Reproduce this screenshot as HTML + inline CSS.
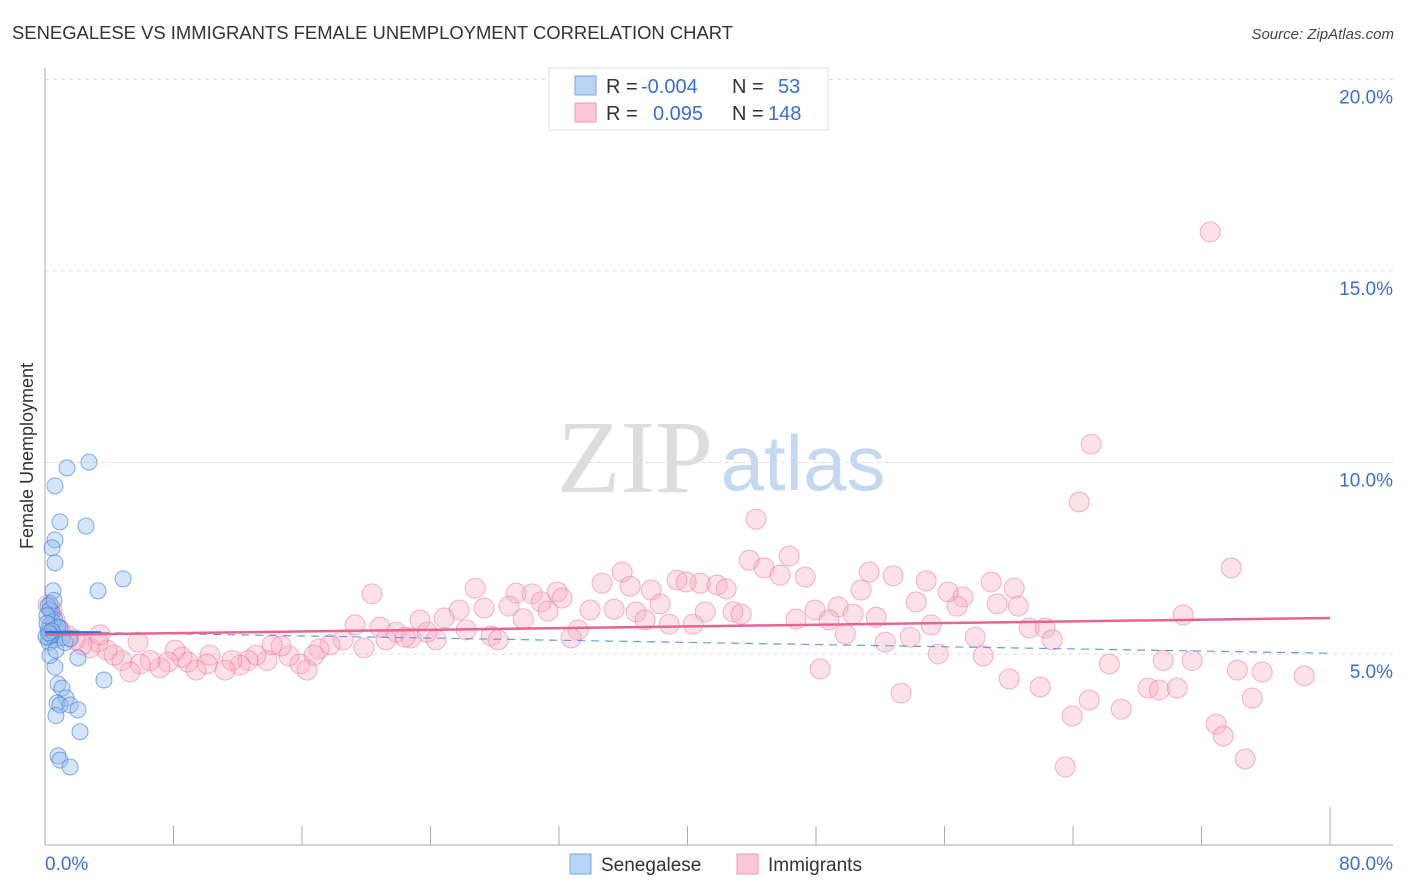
<!DOCTYPE html>
<html><head><meta charset="utf-8"><style>
body{margin:0;background:#fff;font-family:"Liberation Sans",sans-serif}
svg{display:block}
</style></head><body>
<svg id="chart" width="1406" height="892">
<text x="12" y="39" font-size="18" fill="#333" textLength="721" lengthAdjust="spacingAndGlyphs">SENEGALESE VS IMMIGRANTS FEMALE UNEMPLOYMENT CORRELATION CHART</text>
<text x="1394" y="39" font-size="15" fill="#444" font-style="italic" text-anchor="end">Source: ZipAtlas.com</text>
<text x="0" y="0" font-size="18" fill="#333" text-anchor="middle" transform="translate(33,456) rotate(-90)">Female Unemployment</text>
<g><text x="635" y="492" font-size="104" fill="#ddd" font-family="Liberation Serif,serif" text-anchor="middle">ZIP</text><text x="803" y="490" font-size="78" fill="#c6d8f0" text-anchor="middle">atlas</text></g>
<g id="grid"></g><g id="axes"></g><g id="pts"></g><g id="trends"></g>
<g>
<rect x="549" y="68" width="279" height="62" fill="#fff" stroke="#ddd"/>
<rect x="575" y="76" width="21" height="19" fill="#b9d3f5" stroke="#7aa7e6"/>
<rect x="575" y="103" width="21" height="19" fill="#fcc8d6" stroke="#f09ab3"/>
<text x="606" y="93" font-size="20" fill="#333">R = <tspan x="641" fill="#3a6fd0">-0.004</tspan></text>
<text x="732" y="93" font-size="20" fill="#333">N = <tspan x="778" fill="#3a6fd0">53</tspan></text>
<text x="606" y="120" font-size="20" fill="#333">R = <tspan x="653" fill="#3a6fd0">0.095</tspan></text>
<text x="732" y="120" font-size="20" fill="#333">N = <tspan x="768" fill="#3a6fd0">148</tspan></text>
</g>
<g>
<rect x="570" y="854" width="21" height="20" fill="#b9d3f5" stroke="#7aa7e6"/>
<text x="601" y="871" font-size="19" fill="#333">Senegalese</text>
<rect x="737" y="854" width="21" height="20" fill="#fcc8d6" stroke="#f09ab3"/>
<text x="768" y="871" font-size="19" fill="#333">Immigrants</text>
</g>
</svg>
<script>
const yTicks=[5,10,15,20];
const yTickLabels=["5.0%","10.0%","15.0%","20.0%"];
const xTickVals=[0,8,16,24,32,40,48,56,64,72,80];
const xEndLabels=["0.0%","80.0%"];
const senX=[2.74,1.37,0.62,0.93,2.55,0.62,0.44,0.62,4.86,3.30,0.50,0.31,0.44,0.62,0.19,0.31,0.75,0.93,0.44,0.62,0.19,1.06,2.05,0.62,3.67,0.81,1.06,1.31,0.75,0.93,1.56,2.05,0.68,2.18,0.81,0.93,1.56,0.31,0.19,0.50,0.12,0.37,0.25,0.56,0.81,0.06,0.31,0.68,1.25,1.56,0.12,0.44,0.25];
const senY=[10.01,9.86,9.39,8.45,8.34,7.98,7.77,7.38,6.96,6.65,6.65,6.31,6.10,5.89,6.25,5.76,5.63,5.68,5.47,5.37,5.42,5.42,4.90,4.66,4.32,4.22,4.11,3.85,3.72,3.67,3.67,3.54,3.39,2.97,2.34,2.23,2.05,6.15,5.63,5.84,6.00,5.50,5.30,6.40,5.70,5.45,4.96,5.10,5.30,5.40,5.80,5.60,5.55];
const immX=[72.54,65.13,64.39,44.27,73.85,43.84,46.33,44.77,45.77,47.33,51.31,52.80,54.86,58.91,60.34,56.23,57.16,50.81,35.93,34.68,36.43,39.35,40.79,39.92,41.85,42.41,37.74,26.78,29.33,31.88,30.33,30.89,32.19,20.36,25.78,27.34,28.89,24.85,23.35,19.30,20.86,21.86,22.79,24.35,29.77,31.32,33.94,35.43,36.80,38.30,37.36,38.86,40.35,41.10,42.84,43.34,46.76,47.95,49.38,48.82,50.31,51.75,54.24,55.17,56.79,59.28,60.59,61.27,62.27,62.71,70.86,57.91,53.86,52.31,49.82,55.61,58.41,60.03,61.96,66.26,63.95,65.01,67.00,68.68,69.37,70.49,69.62,71.42,74.23,75.78,78.40,75.16,72.92,73.35,74.72,63.52,48.26,53.30,33.19,32.75,27.77,28.21,26.22,23.79,22.42,21.23,18.56,17.75,17.06,19.86,16.75,15.88,16.31,15.19,14.70,14.14,13.82,13.14,12.64,12.14,11.64,11.21,10.27,10.09,9.40,8.90,8.53,8.10,7.66,7.16,6.54,5.92,5.79,5.29,4.79,4.30,3.86,3.30,2.80,2.30,1.87,1.43,0.93,0.62,0.44,0.19,3.42];
const immY=[16.02,10.48,8.97,8.52,7.25,7.45,7.56,7.25,7.06,7.01,7.14,7.04,6.91,6.88,6.72,6.62,6.49,6.67,7.14,6.85,6.77,6.93,6.85,6.88,6.80,6.70,6.67,6.72,6.59,6.62,6.57,6.36,6.46,6.57,6.15,6.20,6.25,5.94,5.89,5.76,5.70,5.57,5.42,5.37,5.92,6.12,6.15,6.17,6.10,6.31,5.89,5.78,5.78,6.10,6.10,6.04,5.91,6.15,6.23,5.89,6.04,5.96,6.36,5.76,6.25,6.31,6.25,5.68,5.68,5.37,6.02,5.44,5.44,5.31,5.52,5.00,4.95,4.35,4.14,4.74,3.38,3.80,3.56,4.11,4.06,4.11,4.83,4.83,4.58,4.53,4.43,3.85,3.17,2.86,2.26,2.05,4.61,3.98,5.63,5.42,5.47,5.37,5.63,5.57,5.44,5.37,5.37,5.24,5.13,5.16,4.97,4.74,4.58,4.95,5.21,5.24,4.83,4.97,4.83,4.71,4.83,4.58,4.97,4.74,4.58,4.79,4.92,5.10,4.79,4.64,4.83,4.74,5.31,4.53,4.83,4.97,5.10,5.31,5.16,5.24,5.37,5.47,5.63,5.89,6.15,6.28,5.50];
const senTrendX=[0,3.5,80];
const senTrendY=[5.57,5.56,5.02];
const immTrendX=[0,80];
const immTrendY=[5.50,5.94];

const NS="http://www.w3.org/2000/svg";
const X0=45,X1=1330,Y0=845.5,PXY=38.3;
const sx=v=>X0+(v/80)*(X1-X0);
const sy=v=>Y0-v*PXY;
function mk(tag,attrs,parent){const e=document.createElementNS(NS,tag);for(const k in attrs)e.setAttribute(k,attrs[k]);parent.appendChild(e);return e;}
const grid=document.getElementById('grid'),axes=document.getElementById('axes'),pts=document.getElementById('pts'),tr=document.getElementById('trends');
yTicks.forEach((t,i)=>{
  const l=mk('line',{x1:45,x2:1393,y1:sy(t),y2:sy(t),stroke:'#ddd','stroke-dasharray':'4,4'},grid);
  
  
  const tx=mk('text',{x:1393,y:sy(t)+24,'font-size':19,fill:'#3a6fd0','text-anchor':'end'},grid);
  tx.textContent=yTickLabels[i];
  
  
});
const ya=mk('line',{x1:45,x2:45,y1:68,y2:845,stroke:'#aaa'},axes);


const xa=mk('line',{x1:45,x2:1393,y1:845,y2:845,stroke:'#aaa'},axes);


xTickVals.forEach((t,i)=>{
  const long=(i===0||i===xTickVals.length-1);
  const l=mk('line',{x1:sx(t),x2:sx(t),y1:long?807:826,y2:845,stroke:'#aaa'},axes);
  
  
});
const xl0=mk('text',{x:45,y:870,'font-size':19,fill:'#3a6fd0'},axes);xl0.textContent=xEndLabels[0];


const xl1=mk('text',{x:1393,y:870,'font-size':19,fill:'#3a6fd0','text-anchor':'end'},axes);xl1.textContent=xEndLabels[1];


immX.forEach((v,i)=>{
  const c=mk('circle',{cx:sx(v),cy:sy(immY[i]),r:10,fill:'rgba(248,170,192,0.35)',stroke:'rgba(232,120,155,0.55)','stroke-width':1},pts);
  
  
});
senX.forEach((v,i)=>{
  const c=mk('circle',{cx:sx(v),cy:sy(senY[i]),r:8,fill:'rgba(150,190,240,0.4)',stroke:'rgba(60,120,210,0.6)','stroke-width':1},pts);
  
  
});
const bs=mk('line',{x1:sx(senTrendX[0]),y1:sy(senTrendY[0]),x2:sx(senTrendX[1]),y2:sy(senTrendY[1]),stroke:'#2e6fd6','stroke-width':2.5},tr);


const bd=mk('line',{x1:sx(senTrendX[1]),y1:sy(senTrendY[1]),x2:sx(senTrendX[2]),y2:sy(senTrendY[2]),stroke:'#6a9ad8','stroke-width':1.2,'stroke-dasharray':'8,6'},tr);


const pl=mk('line',{x1:sx(immTrendX[0]),y1:sy(immTrendY[0]),x2:sx(immTrendX[1]),y2:sy(immTrendY[1]),stroke:'#e8648e','stroke-width':2.5},tr);


</script>
</body></html>
